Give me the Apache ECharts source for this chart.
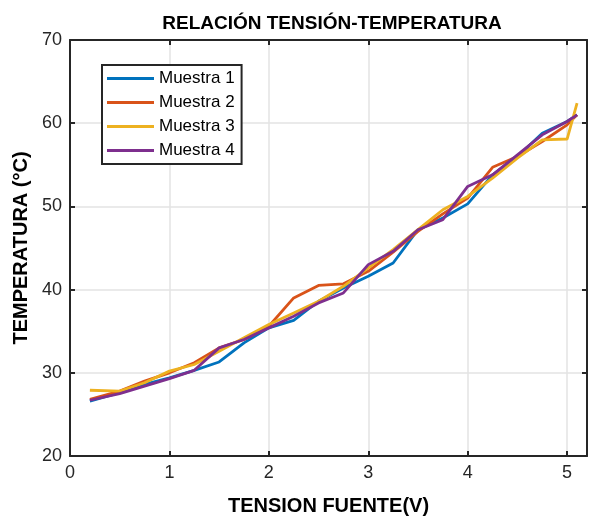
<!DOCTYPE html>
<html>
<head>
<meta charset="utf-8">
<script src="https://cdn.jsdelivr.net/npm/echarts@6/dist/echarts.min.js"></script>
<style>html,body{margin:0;padding:0;background:#fff;}#c{width:598px;height:521px;}</style>
</head>
<body>
<div id="c"></div>
<script>
const voltage = [0.2, 0.5, 0.75, 1.0, 1.25, 1.5, 1.75, 2.0, 2.25, 2.5, 2.75, 3.0, 3.25, 3.5, 3.75, 4.0, 4.25, 4.5, 4.75, 5.0, 5.1];
const muestra1 = [26.6, 27.6, 28.6, 29.4, 30.3, 31.3, 33.6, 35.4, 36.3, 38.6, 40.2, 41.6, 43.2, 47.2, 48.6, 50.3, 53.8, 56.0, 58.8, 60.2, 61.0];
const muestra2 = [26.8, 27.8, 29.0, 30.0, 31.2, 33.0, 34.0, 35.6, 39.0, 40.5, 40.7, 42.2, 44.5, 47.0, 49.1, 51.0, 54.7, 56.0, 57.8, 59.8, 61.0];
const muestra3 = [27.9, 27.8, 28.8, 30.2, 31.0, 32.6, 34.2, 35.8, 37.2, 38.6, 40.4, 42.6, 44.8, 47.2, 49.6, 51.2, 53.4, 55.8, 58.0, 58.1, 62.4];
const muestra4 = [26.7, 27.5, 28.4, 29.3, 30.3, 33.0, 34.0, 35.4, 36.8, 38.4, 39.6, 43.0, 44.6, 47.2, 48.4, 52.4, 53.8, 56.2, 58.6, 60.2, 61.0];
const seriesNames = ['Muestra 1', 'Muestra 2', 'Muestra 3', 'Muestra 4'];
const xTicks = [0, 1, 2, 3, 4, 5];
const yTicks = [20, 30, 40, 50, 60, 70];

const colors = ['#0072BD', '#D95319', '#EDB120', '#7E2F8E'];
const allY = [muestra1, muestra2, muestra3, muestra4];
const font = 'Liberation Sans, Arial, sans-serif';

const chart = echarts.init(document.getElementById('c'));
const axisCommon = {
  axisLine: { show: true, onZero: false, lineStyle: { color: '#262626', width: 2 } },
  axisTick: { show: true, inside: true, length: 5, lineStyle: { color: '#262626', width: 2 } },
};
chart.setOption({
  animation: false,
  title: {
    text: 'RELACIÓN TENSIÓN-TEMPERATURA',
    left: 327, top: 9, textAlign: 'center',
    textStyle: { fontFamily: font, fontWeight: 'bold', fontSize: 19, color: '#000' }
  },
  legend: {
    data: seriesNames,
    orient: 'vertical',
    left: 102, top: 65,
    padding: [5, 7, 5, 5],
    itemGap: 7,
    itemWidth: 47, itemHeight: 16,
    borderColor: '#262626', borderWidth: 2,
    backgroundColor: '#fff',
    icon: 'path://M0,6.5 L47,6.5 L47,9.5 L0,9.5 Z',
    textStyle: { fontFamily: font, fontSize: 17, color: '#000' }
  },
  grid: { left: 70, right: 11, top: 40, bottom: 62 },
  xAxis: [{
    type: 'value', min: 0, max: 5.2, interval: 1,
    name: 'TENSION FUENTE(V)', nameLocation: 'middle', nameGap: 40,
    nameTextStyle: { fontFamily: font, fontWeight: 'bold', fontSize: 20, color: '#000' },
    ...axisCommon,
    axisLabel: { fontFamily: font, fontSize: 18, color: '#262626', margin: 8, showMaxLabel: false,
      formatter: v => xTicks.includes(v) ? String(v) : '' },
    splitLine: { show: true, lineStyle: { color: '#e3e3e3', width: 1.5 } }
  }, {
    type: 'value', min: 0, max: 5.2, interval: 1, position: 'top',
    ...axisCommon, axisLabel: { show: false }, splitLine: { show: false }
  }],
  yAxis: [{
    type: 'value', min: 20, max: 70, interval: 10,
    name: 'TEMPERATURA (°C)', nameLocation: 'middle', nameGap: 32,
    nameTextStyle: { fontFamily: font, fontWeight: 'bold', fontSize: 20, color: '#000' },
    ...axisCommon,
    axisLabel: { fontFamily: font, fontSize: 18, color: '#262626', margin: 8,
      formatter: v => yTicks.includes(v) ? String(v) : '' },
    splitLine: { show: true, lineStyle: { color: '#e3e3e3', width: 1.5 } }
  }, {
    type: 'value', min: 20, max: 70, interval: 10, position: 'right',
    ...axisCommon, axisLabel: { show: false }, splitLine: { show: false }
  }],
  series: seriesNames.map((n, k) => ({
    name: n, type: 'line', xAxisIndex: 0, yAxisIndex: 0,
    data: voltage.map((v, i) => [v, allY[k][i]]),
    showSymbol: false, symbol: 'none',
    lineStyle: { color: colors[k], width: 2.8 },
    itemStyle: { color: colors[k] }
  }))
});
</script>
</body>
</html>
